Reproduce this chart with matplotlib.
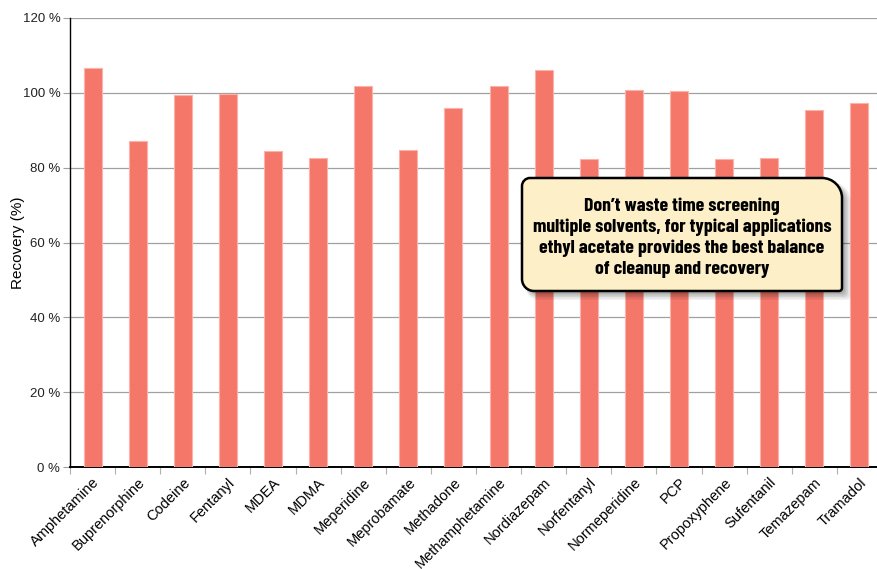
import numpy as np
import matplotlib
matplotlib.use("Agg")
import matplotlib.pyplot as plt
from matplotlib.path import Path
from matplotlib.patches import PathPatch
from matplotlib.ticker import FixedLocator, FuncFormatter

drugs = ['Amphetamine', 'Buprenorphine', 'Codeine', 'Fentanyl', 'MDEA', 'MDMA',
         'Meperidine', 'Meprobamate', 'Methadone', 'Methamphetamine', 'Nordiazepam',
         'Norfentanyl', 'Normeperidine', 'PCP', 'Propoxyphene', 'Sufentanil',
         'Temazepam', 'Tramadol']
recovery = [106.6, 87.2, 99.5, 99.8, 84.4, 82.6, 101.9, 84.7, 96.0, 101.9, 106.0,
            82.3, 100.8, 100.5, 82.3, 82.6, 95.4, 97.4]
y_ticks = [0, 20, 40, 60, 80, 100, 120]
note = ("Don\u2019t waste time screening\n"
        "multiple solvents, for typical applications\n"
        "ethyl acetate provides the best balance\n"
        "of cleanup and recovery")

plt.rcParams['font.family'] = ['Liberation Sans', 'DejaVu Sans']

W, H = 877, 569
fig = plt.figure(figsize=(W / 100, H / 100), dpi=100)
ax = fig.add_axes([70 / W, 1 - 467 / H, 812 / W, 449 / H])

x = np.arange(len(drugs))
ax.bar(x, recovery, width=0.4, color='#f47769', edgecolor='#f9b3ab',
       linewidth=0.8, zorder=3)

ax.set_xlim(-0.5, len(drugs) - 0.5)
ax.set_ylim(0, 120)
ax.set_yticks(y_ticks)
ax.yaxis.set_major_formatter(FuncFormatter(lambda v, p: f"{v:.0f} %"))
ax.grid(axis='y', color='#a0a0a0', linewidth=0.9, zorder=0)

ax.set_xticks(x)
ax.set_xticklabels(drugs, rotation=45, ha='right', rotation_mode='anchor',
                   fontsize=10.5)
ax.tick_params(axis='x', which='major', length=0, pad=6)
ax.xaxis.set_minor_locator(FixedLocator(x - 0.5))
ax.tick_params(axis='x', which='minor', length=5, color='#b0b0b0', width=0.8)
ax.tick_params(axis='y', length=5, color='#a0a0a0', width=0.8, labelsize=9.5,
               pad=2, labelcolor='#222222')

for side in ['top', 'right']:
    ax.spines[side].set_visible(False)
ax.spines['left'].set_linewidth(1.0)
ax.spines['bottom'].set_linewidth(1.4)
ax.set_ylabel('Recovery (%)', fontsize=11)
ax.yaxis.set_label_coords(-0.056, 0.5)

# callout box drawn in pixel coordinates on an overlay
ov = fig.add_axes([0, 0, 1, 1])
ov.set_xlim(0, W)
ov.set_ylim(H, 0)
ov.axis('off')


def rounded_box(x0, y0, x1, y1, r_tl, r_tr, r_br, r_bl):
    k = 0.5523
    verts = [(x0 + r_tl, y0), (x1 - r_tr, y0),
             (x1 - r_tr + k * r_tr, y0), (x1, y0 + r_tr - k * r_tr), (x1, y0 + r_tr),
             (x1, y1 - r_br),
             (x1, y1 - r_br + k * r_br), (x1 - r_br + k * r_br, y1), (x1 - r_br, y1),
             (x0 + r_bl, y1),
             (x0 + r_bl - k * r_bl, y1), (x0, y1 - r_bl + k * r_bl), (x0, y1 - r_bl),
             (x0, y0 + r_tl),
             (x0, y0 + r_tl - k * r_tl), (x0 + r_tl - k * r_tl, y0), (x0 + r_tl, y0),
             (x0 + r_tl, y0)]
    codes = [Path.MOVETO, Path.LINETO,
             Path.CURVE4, Path.CURVE4, Path.CURVE4,
             Path.LINETO,
             Path.CURVE4, Path.CURVE4, Path.CURVE4,
             Path.LINETO,
             Path.CURVE4, Path.CURVE4, Path.CURVE4,
             Path.LINETO,
             Path.CURVE4, Path.CURVE4, Path.CURVE4,
             Path.CLOSEPOLY]
    return Path(verts, codes)


bx0, by0, bx1, by1 = 522, 178, 842, 291
# soft shadow
for i, a in enumerate([0.05, 0.06, 0.07, 0.08, 0.09]):
    d = 9 - i * 1.5
    sh = rounded_box(bx0 + 4, by0 + 4, bx1 + d, by1 + d, 8, 20, 4, 12)
    ov.add_patch(PathPatch(sh, facecolor='black', edgecolor='none', alpha=a))
box = rounded_box(bx0, by0, bx1, by1, 8, 20, 3, 12)
ov.add_patch(PathPatch(box, facecolor='#fdf0c9', edgecolor='black', linewidth=1.8))
ov.text((bx0 + bx1) / 2, (by0 + by1) / 2 + 3, note, ha='center', va='center',
        fontsize=14.3, fontweight='bold', linespacing=1.28,
        family=['Barlow Condensed', 'Liberation Sans', 'DejaVu Sans'])

fig.savefig('out.png', dpi=100)
